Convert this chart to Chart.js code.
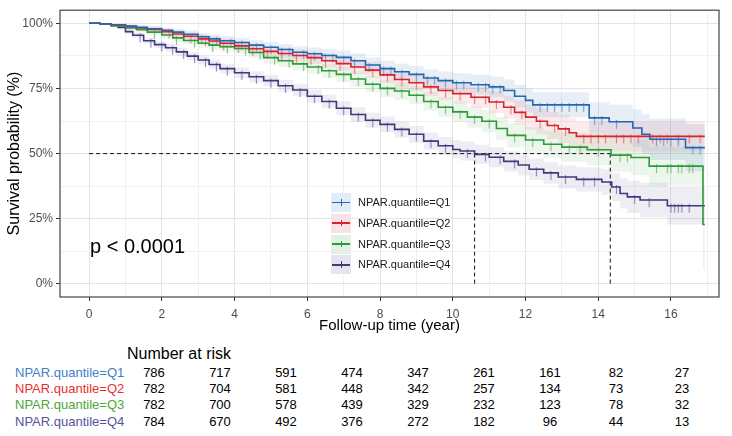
<!DOCTYPE html>
<html>
<head>
<meta charset="utf-8">
<script src="https://cdn.jsdelivr.net/npm/chart.js@4.4.1/dist/chart.umd.min.js"></script>
<style>
  body { margin: 0; background: #fff; font-family: 'Liberation Sans', Arial, sans-serif; }
  #wrap { position: relative; width: 732px; height: 436px; overflow: hidden; background: #fff; }
  #km { position: absolute; left: 0; top: 0; }
  #pval { position: absolute; left: 90px; top: 236px; font-size: 20px; line-height: 20px; color: #000; }
  #legend { position: absolute; left: 331px; top: 192px; }
  .lrow { position: relative; height: 20.8px; width: 140px; }
  .key { position: absolute; left: 0; top: 1px; width: 20px; height: 19px; }
  .kline { position: absolute; left: 1px; right: 1px; top: 8.6px; height: 1.6px; }
  .ktick { position: absolute; left: 9.5px; top: 6px; width: 1px; height: 6.5px; }
  .ltxt { position: absolute; left: 27px; top: 0; line-height: 20.8px; font-size: 11px; color: #1a1a1a; white-space: nowrap; }
  #risk-title { position: absolute; left: 127px; top: 345px; font-size: 16px; line-height: 18px; color: #000; }
  .rrow { position: absolute; left: 0; height: 16.4px; width: 732px; }
  .rlab { position: absolute; left: 15px; top: 0; font-size: 13px; line-height: 16.4px; white-space: nowrap; }
  .rcells { position: absolute; left: 121px; top: 0; display: flex; }
  .rcell { width: 66px; text-align: center; font-size: 13px; line-height: 16.4px; color: #000; }
</style>
</head>
<body>
<div id="wrap">
  <canvas id="km" width="732" height="345"></canvas>
  <div id="pval">p &lt; 0.0001</div>
  <div id="legend"></div>
  <div id="risk-title">Number at risk</div>
  <div id="risk"></div>
</div>
<script>
// Kaplan-Meier curves (time in years, survival in %)
const groups = ['NPAR.quantile=Q1', 'NPAR.quantile=Q2', 'NPAR.quantile=Q3', 'NPAR.quantile=Q4'];

const timeQ1 = [0, 0.3, 0.6, 1.0, 1.3, 1.6, 2.0, 2.3, 2.6, 3.0, 3.3, 3.6, 4.0, 4.4, 4.8, 5.2, 5.6, 6.0, 6.4, 6.8, 7.2, 7.6, 8.0, 8.4, 8.8, 9.2, 9.6, 10.0, 10.5, 11.0, 11.4, 11.7, 12.0, 12.2, 13.75, 14.3, 14.95, 15.2, 15.42, 16.4, 16.93];
const survQ1 = [100, 99.8, 99.4, 98.9, 98.4, 97.9, 97.3, 96.6, 95.8, 94.8, 94.0, 93.3, 92.6, 91.6, 90.8, 89.9, 88.9, 88.3, 87.6, 86.9, 85.6, 84.0, 82.6, 81.4, 80.4, 79.0, 78.0, 77.2, 76.4, 75.6, 74.2, 72.0, 70.4, 68.7, 63.7, 62.2, 59.8, 57.4, 55.5, 52.3, 52.3];
const ciQ1 = [0, 0.2, 0.4, 0.7, 0.8, 1.0, 1.1, 1.2, 1.4, 1.5, 1.6, 1.7, 1.8, 1.9, 2.0, 2.1, 2.3, 2.4, 2.5, 2.6, 2.8, 2.9, 3.0, 3.1, 3.2, 3.3, 3.5, 3.6, 3.8, 4.0, 4.2, 4.4, 4.6, 4.8, 6.0, 6.5, 7.2, 7.6, 8.0, 9.0, 9.0];

const timeQ2 = [0, 0.3, 0.6, 1.0, 1.3, 1.6, 2.0, 2.3, 2.6, 3.0, 3.3, 3.6, 4.0, 4.4, 4.8, 5.2, 5.6, 6.0, 6.4, 6.8, 7.2, 7.6, 8.0, 8.4, 8.8, 9.2, 9.6, 10.0, 10.5, 11.0, 11.4, 11.7, 12.0, 12.3, 12.6, 12.9, 13.2, 13.4, 16.93];
const survQ2 = [100, 99.8, 99.3, 98.7, 98.2, 97.6, 96.8, 95.9, 95.0, 94.0, 93.2, 92.3, 91.3, 90.2, 89.2, 88.4, 87.6, 86.8, 85.6, 84.5, 83.2, 82.0, 80.2, 78.4, 77.2, 75.6, 74.2, 73.0, 71.6, 69.8, 67.8, 65.8, 64.0, 62.4, 60.8, 59.5, 58.0, 56.6, 56.6];
const ciQ2 = [0, 0.2, 0.4, 0.7, 0.8, 1.0, 1.1, 1.3, 1.4, 1.6, 1.7, 1.8, 1.9, 2.0, 2.1, 2.2, 2.3, 2.4, 2.6, 2.7, 2.8, 3.0, 3.1, 3.2, 3.3, 3.5, 3.6, 3.8, 4.0, 4.2, 4.4, 4.6, 4.8, 5.0, 5.2, 5.4, 5.6, 5.8, 5.8];

const timeQ3 = [0, 0.3, 0.6, 1.0, 1.3, 1.6, 2.0, 2.3, 2.6, 3.0, 3.3, 3.6, 4.0, 4.4, 4.8, 5.2, 5.6, 6.0, 6.4, 6.8, 7.2, 7.6, 8.0, 8.4, 8.8, 9.2, 9.6, 10.0, 10.4, 10.8, 11.2, 11.5, 12.0, 12.5, 13.0, 13.7, 14.35, 14.9, 15.4, 16.88, 16.93];
const survQ3 = [100, 99.6, 99.0, 98.2, 97.5, 96.6, 95.5, 94.4, 93.4, 92.3, 91.6, 91.0, 90.3, 88.8, 86.8, 85.6, 84.4, 83.2, 81.8, 80.4, 78.6, 76.6, 75.0, 74.0, 72.4, 70.0, 67.8, 66.0, 64.0, 62.4, 59.6, 57.0, 55.2, 53.6, 52.5, 51.5, 49.4, 48.5, 45.2, 22.8, 22.8];
const ciQ3 = [0, 0.2, 0.5, 0.8, 0.9, 1.1, 1.2, 1.4, 1.5, 1.7, 1.8, 1.9, 2.0, 2.1, 2.3, 2.4, 2.5, 2.6, 2.7, 2.9, 3.0, 3.1, 3.3, 3.4, 3.5, 3.6, 3.8, 3.9, 4.1, 4.2, 4.4, 4.6, 4.9, 5.2, 5.6, 6.0, 6.4, 6.8, 7.4, 17, 17];

const timeQ4 = [0, 0.3, 0.6, 0.8, 1.0, 1.2, 1.5, 1.8, 2.1, 2.4, 2.7, 3.0, 3.3, 3.6, 4.0, 4.4, 4.8, 5.2, 5.6, 6.0, 6.4, 6.8, 7.2, 7.6, 8.0, 8.4, 8.8, 9.2, 9.6, 10.0, 10.2, 10.6, 11.0, 11.4, 11.8, 12.1, 12.5, 12.9, 13.4, 14.1, 14.37, 14.6, 14.8, 15.15, 15.9, 16.93];
const survQ4 = [100, 99.8, 99.3, 98.4, 96.8, 95.4, 93.3, 91.8, 90.6, 89.0, 87.4, 85.9, 84.2, 82.6, 81.0, 79.5, 78.0, 76.0, 74.4, 72.0, 70.0, 67.4, 65.0, 62.8, 61.2, 59.3, 57.4, 54.8, 53.0, 51.6, 51.0, 49.7, 48.6, 47.0, 45.6, 44.0, 42.6, 41.0, 40.1, 39.1, 37.2, 34.7, 33.4, 32.2, 30.0, 30.0];
const ciQ4 = [0, 0.2, 0.4, 0.6, 0.8, 1.0, 1.1, 1.3, 1.4, 1.5, 1.6, 1.7, 1.8, 1.9, 2.0, 2.1, 2.2, 2.3, 2.4, 2.5, 2.6, 2.7, 2.8, 2.9, 3.0, 3.1, 3.2, 3.3, 3.4, 3.5, 3.6, 3.7, 3.8, 3.9, 4.0, 4.1, 4.2, 4.4, 4.6, 5.0, 5.4, 5.8, 6.2, 6.6, 7.2, 7.2];

// censoring times (the "+" marks)
const censQ1 = [2.6, 3.1, 3.5, 3.9, 4.2, 4.6, 5.0, 5.3, 5.5, 5.9, 6.2, 6.5, 6.7, 7.0, 7.3, 7.7, 8.1, 8.3, 8.6, 9.0, 9.3, 9.5, 9.8, 10.1, 10.3, 10.7, 10.9, 11.1, 11.3, 12.4, 12.6, 12.8, 13.0, 13.2, 13.4, 13.6, 13.9, 14.1, 14.5, 15.6, 15.8, 16.0, 16.2, 16.6, 16.8];
const censQ2 = [2.2, 2.8, 3.2, 3.7, 4.1, 4.5, 4.9, 5.3, 5.7, 6.1, 6.5, 6.9, 7.3, 7.8, 8.2, 8.6, 9.0, 9.4, 9.8, 10.2, 10.6, 10.9, 11.2, 11.6, 11.9, 12.4, 12.8, 13.1, 13.6, 13.8, 14.0, 14.2, 14.5, 14.7, 14.9, 15.1, 15.5, 15.7, 15.9, 16.2, 16.5, 16.8];
const censQ3 = [1.8, 2.4, 2.9, 3.4, 3.8, 4.3, 4.7, 5.1, 5.5, 5.9, 6.3, 6.6, 7.0, 7.4, 7.8, 8.2, 8.6, 9.0, 9.4, 9.8, 10.2, 10.6, 11.0, 11.7, 12.2, 12.7, 13.2, 13.5, 14.0, 14.6, 14.8, 15.6, 15.9, 16.0, 16.2, 16.3, 16.5, 16.6];
const censQ4 = [1.4, 1.7, 2.0, 2.3, 2.6, 2.9, 3.2, 3.5, 3.8, 4.2, 4.6, 5.0, 5.4, 5.8, 6.2, 6.6, 7.0, 7.4, 7.8, 8.2, 8.6, 9.0, 9.4, 9.8, 10.4, 10.9, 11.3, 11.7, 12.3, 12.7, 13.1, 13.6, 13.9, 14.5, 15.0, 15.4, 16.0, 16.1, 16.2, 16.3, 16.5];

// median survival times (dashed guides at 50%)
const medianTimes = [14.33, 10.6];

// number at risk table
const riskTimes = [0, 2, 4, 6, 8, 10, 12, 14, 16];
const riskQ1 = [786, 717, 591, 474, 347, 261, 161, 82, 27];
const riskQ2 = [782, 704, 581, 448, 342, 257, 134, 73, 23];
const riskQ3 = [782, 700, 578, 439, 329, 232, 123, 78, 32];
const riskQ4 = [784, 670, 492, 376, 272, 182, 96, 44, 13];

// styles
const lineColors = ['#2467b0', '#d8232a', '#2b9a37', '#3c3b7b'];
const censorColors = ['#7aa3d4', '#e77f83', '#80c585', '#9086c2'];
const bandColors = ['rgba(36,103,176,0.11)', 'rgba(216,35,42,0.09)', 'rgba(43,154,55,0.09)', 'rgba(60,59,123,0.09)'];
const keyColors = ['#e3ecf6', '#f8e2e3', '#e3f1e4', '#e6e5ef'];
const riskLabelColors = ['#3f80c6', '#e8312c', '#4ea636', '#54539a'];
const FONT = "'Liberation Sans', Arial, sans-serif";

const times = [timeQ1, timeQ2, timeQ3, timeQ4];
const survs = [survQ1, survQ2, survQ3, survQ4];
const cis = [ciQ1, ciQ2, ciQ3, ciQ4];
const cens = [censQ1, censQ2, censQ3, censQ4];
const risks = [riskQ1, riskQ2, riskQ3, riskQ4];

function survAt(t, s, x) {
    let v = s[0];
    for (let i = 0; i < t.length; i++) {
        if (t[i] <= x) v = s[i];
    }
    return v;
}

function tickMark(color) {
    const c = document.createElement('canvas');
    c.width = 3;
    c.height = 16;
    const g = c.getContext('2d');
    g.strokeStyle = color;
    g.lineWidth = 1.2;
    g.beginPath();
    g.moveTo(1.5, 6);
    g.lineTo(1.5, 15);
    g.stroke();
    return c;
}

function buildDatasets() {
    const sets = [];
    groups.forEach((name, g) => {
        const t = times[g], s = survs[g], ci = cis[g];
        sets.push({
            label: name + ' upper',
            data: t.map((x, i) => ({ x: x, y: Math.min(100, s[i] + ci[i]) })),
            stepped: true, borderWidth: 0, pointRadius: 0,
            backgroundColor: bandColors[g], fill: '+1', order: 6
        });
        sets.push({
            label: name + ' lower',
            data: t.map((x, i) => ({ x: x, y: Math.max(0, s[i] - ci[i]) })),
            stepped: true, borderWidth: 0, pointRadius: 0, fill: false, order: 6
        });
        sets.push({
            label: name,
            data: t.map((x, i) => ({ x: x, y: s[i] })),
            stepped: true, borderColor: lineColors[g], borderWidth: 1.6,
            pointRadius: 0, fill: false, order: 1
        });
        sets.push({
            label: name + ' censor',
            data: cens[g].map(x => ({ x: x, y: survAt(t, s, x) })),
            showLine: false, pointStyle: tickMark(censorColors[g]),
            pointRadius: 3, order: 2
        });
    });

    const dash = { borderColor: '#111', borderWidth: 1, borderDash: [4, 3], pointRadius: 0, fill: false, order: 3 };
    sets.push(Object.assign({ label: 'median h', data: [{ x: 0, y: 50 }, { x: Math.max(...medianTimes), y: 50 }] }, dash));
    medianTimes.forEach(m => {
        sets.push(Object.assign({ label: 'median ' + m, data: [{ x: m, y: 50 }, { x: m, y: 0 }] }, dash));
    });
    return sets;
}

const panelBorder = {
    id: 'panelBorder',
    afterDatasetsDraw(chart) {
        const { ctx, chartArea: a } = chart;
        ctx.save();
        ctx.strokeStyle = '#444';
        ctx.lineWidth = 1.2;
        ctx.strokeRect(a.left, a.top, a.right - a.left, a.bottom - a.top);
        ctx.restore();
    }
};

function renderChart() {
    const ctx = document.getElementById('km').getContext('2d');
    new Chart(ctx, {
        type: 'line',
        data: { datasets: buildDatasets() },
        plugins: [panelBorder],
        options: {
            responsive: false,
            animation: false,
            devicePixelRatio: 1,
            layout: { padding: { top: 6, right: 13, left: 0, bottom: 0 } },
            plugins: { legend: { display: false }, tooltip: { enabled: false } },
            scales: {
                x: {
                    type: 'linear', min: -0.8, max: 17.32,
                    border: { display: false },
                    grid: {
                        color: c => (c.tick && c.tick.value % 2 === 0 ? '#e4e4e4' : '#f1f1f1'),
                        tickColor: c => (c.tick && c.tick.value % 2 === 0 ? '#333' : 'rgba(0,0,0,0)'),
                        tickLength: 4
                    },
                    ticks: {
                        stepSize: 1, includeBounds: false, autoSkip: false, maxRotation: 0,
                        padding: 6, color: '#4d4d4d', font: { size: 12, family: FONT },
                        callback: v => (v % 2 === 0 ? String(v) : '')
                    },
                    title: {
                        display: true, text: 'Follow-up time (year)', color: '#000',
                        font: { size: 15, family: FONT }, padding: { top: 0, bottom: 10 }
                    },
                    afterFit: s => { s.height = 48; }
                },
                y: {
                    type: 'linear', min: -5, max: 105,
                    border: { display: false },
                    grid: {
                        color: c => (c.tick && c.tick.value % 25 === 0 ? '#e4e4e4' : '#f1f1f1'),
                        tickColor: c => (c.tick && c.tick.value % 25 === 0 ? '#333' : 'rgba(0,0,0,0)'),
                        tickLength: 4
                    },
                    ticks: {
                        stepSize: 12.5, includeBounds: false, autoSkip: false,
                        padding: 3, color: '#4d4d4d', font: { size: 12, family: FONT },
                        callback: v => (v % 25 === 0 ? v + '%' : '')
                    },
                    title: {
                        display: true, text: 'Survival probability (%)', color: '#000',
                        font: { size: 16, family: FONT }, padding: { top: 5, bottom: 0 }
                    },
                    afterFit: s => { s.width = 60; }
                }
            }
        }
    });
}

function renderLegend() {
    const box = document.getElementById('legend');
    box.innerHTML = groups.map((name, g) => `
        <div class="lrow">
            <span class="key" style="background:${keyColors[g]}">
                <span class="kline" style="background:${lineColors[g]}"></span>
                <span class="ktick" style="background:${lineColors[g]}"></span>
            </span>
            <span class="ltxt">${name}</span>
        </div>
    `).join('');
}

function renderRisk() {
    const box = document.getElementById('risk');
    box.innerHTML = groups.map((name, g) => `
        <div class="rrow" style="top:${364.5 + g * 16.4}px">
            <div class="rlab" style="color:${riskLabelColors[g]}">${name}</div>
            <div class="rcells">${riskTimes.map((t, i) => `<div class="rcell">${risks[g][i]}</div>`).join('')}</div>
        </div>
    `).join('');
}

renderChart();
renderLegend();
renderRisk();
</script>
</body>
</html>
